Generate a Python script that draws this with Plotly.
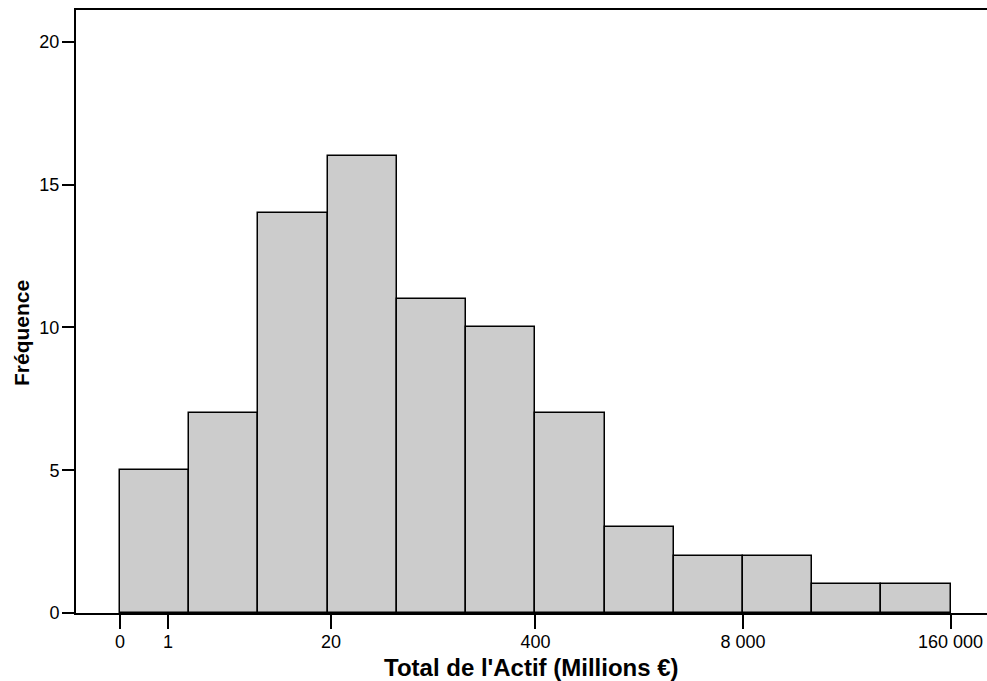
import numpy as np
import plotly.graph_objects as go

# Data
counts = [5, 7, 14, 16, 11, 10, 7, 3, 2, 2, 1, 1]
x_min_value = 0
x_max_value = 160000
tick_values = [0, 1, 20, 400, 8000, 160000]
tick_labels = ["0", "1", "20", "400", "8 000", "160 000"]
y_ticks = [0, 5, 10, 15, 20]
x_title = "Total de l'Actif (Millions €)"
y_title = "Fréquence"

# Transformed scale: log10(x + 1)
def tr(v):
    return np.log10(np.asarray(v, dtype=float) + 1.0)

n = len(counts)
edges = np.linspace(tr(x_min_value), tr(x_max_value), n + 1)
centers = (edges[:-1] + edges[1:]) / 2
widths = np.diff(edges)

fig = go.Figure()
fig.add_trace(go.Bar(
    x=centers, y=counts, width=widths,
    marker=dict(color="#cccccc", line=dict(color="black", width=1.5)),
    showlegend=False, hoverinfo="y",
))

W, H = 987, 681
plot_l, plot_t, plot_r, plot_b = 76, 10, 987, 613  # page pixels
ml, mt, mr, mb = plot_l, plot_t, W - plot_r, H - plot_b
pw, ph = plot_r - plot_l, plot_b - plot_t
px_per_unit = 159.6
x0_px = 120
xr = [(plot_l - x0_px) / px_per_unit, (plot_r - x0_px) / px_per_unit]

fig.update_layout(
    width=W, height=H,
    margin=dict(l=ml, r=mr, t=mt, b=mb, autoexpand=False),
    plot_bgcolor="white", paper_bgcolor="white",
    font=dict(family="Liberation Sans, Arial, sans-serif", color="black", size=18),
    bargap=0,
)
fig.update_xaxes(
    range=xr, tickmode="array", tickvals=tr(tick_values).tolist(), ticktext=tick_labels,
    ticks="outside", ticklen=14, tickwidth=2, tickcolor="black",
    showline=True, linecolor="black", linewidth=2, mirror=True,
    showgrid=False, zeroline=False, tickfont=dict(size=18),
    automargin=False, ticklabelstandoff=-3,
)
fig.update_yaxes(
    range=[0, 21.12], tickmode="array", tickvals=y_ticks,
    ticks="outside", ticklen=12, tickwidth=2, tickcolor="black",
    showline=True, linecolor="black", linewidth=2,
    showgrid=False, zeroline=False, tickfont=dict(size=18),
    automargin=False, ticklabelstandoff=-1,
)
fig.add_annotation(text="<b>" + x_title + "</b>", xref="paper", yref="paper",
                   x=(531 - plot_l) / pw, y=(plot_b - 667) / ph,
                   showarrow=False, font=dict(size=24),
                   xanchor="center", yanchor="middle")
fig.add_annotation(text="<b>" + y_title + "</b>", xref="paper", yref="paper",
                   x=(21 - plot_l) / pw, y=(plot_b - 333) / ph,
                   showarrow=False, font=dict(size=21),
                   textangle=-90, xanchor="center", yanchor="middle")

fig.write_html(
    "out.html",
    config={"displayModeBar": False},
    post_script="document.body.style.margin='0';document.body.style.overflow='hidden';",
)
